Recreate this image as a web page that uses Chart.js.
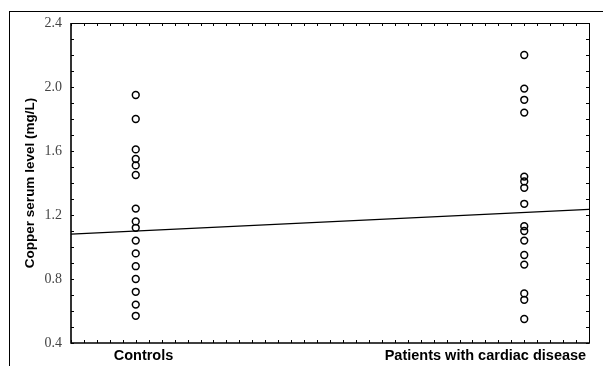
<!DOCTYPE html>
<html>
<head>
<meta charset="utf-8">
<script src="https://cdn.jsdelivr.net/npm/chart.js@4.4.0/dist/chart.umd.min.js"></script>
<style>
  html, body { margin: 0; padding: 0; background: #fff; overflow: hidden; }
  #wrap { position: relative; width: 603px; height: 366px; overflow: hidden; }
  #box { position: absolute; left: 9px; top: 11px; width: 620px; height: 400px; border: 1px solid #000; box-sizing: border-box; }
  canvas { position: absolute; left: 0; top: 0; }
</style>
</head>
<body>
<div id="wrap">
  <div id="box"></div>
  <canvas id="myChart" width="603" height="366"></canvas>
</div>
<script>
// groups and their position on the x scale
const groups = ["Controls", "Patients with cardiac disease"];
const groupX = [1, 7];

// copper serum level (mg/L)
const controls = [1.95, 1.80, 1.61, 1.55, 1.51, 1.45, 1.24, 1.16, 1.12, 1.04, 0.96, 0.88, 0.80, 0.72, 0.64, 0.57];
const patients = [2.20, 1.99, 1.92, 1.84, 1.44, 1.41, 1.37, 1.27, 1.13, 1.10, 1.04, 0.95, 0.89, 0.71, 0.67, 0.55];

// fitted line, value at both ends of the x range
const lineX = [0, 8];
const lineY = [1.08, 1.235];

const yTicks = [0.4, 0.8, 1.2, 1.6, 2.0, 2.4];

// where the group labels sit under the axis (they are not centred on the points)
const labelX = [1.12, 6.4];

function pts(x, vals) {
  return vals.map(v => ({ x: x, y: v }));
}

// axis frame with small inward ticks
const frame = {
  id: "frame",
  afterDraw(chart) {
    const { ctx, chartArea: a, scales } = chart;
    const x = scales.x, y = scales.y;
    ctx.save();
    ctx.strokeStyle = "#000";
    ctx.lineWidth = 1;
    ctx.beginPath();
    ctx.moveTo(a.left, a.top + 0.5);
    ctx.lineTo(a.right + 0.5, a.top + 0.5);
    ctx.lineTo(a.right + 0.5, a.bottom);
    ctx.stroke();
    ctx.lineWidth = 1.6;
    ctx.beginPath();
    ctx.moveTo(a.left, a.top);
    ctx.lineTo(a.left, a.bottom);
    ctx.lineTo(a.right + 1, a.bottom);
    ctx.stroke();

    ctx.lineWidth = 1;
    ctx.beginPath();
    for (let i = 0; i <= 20; i++) {
      const py = Math.round(y.getPixelForValue(0.4 + i * 0.1)) + 0.5;
      ctx.moveTo(a.left, py); ctx.lineTo(a.left + 3, py);
      ctx.moveTo(a.right, py); ctx.lineTo(a.right - 3, py);
    }
    for (let i = 0; i <= 40; i++) {
      const px = Math.round(x.getPixelForValue(i * 0.2)) + 0.5;
      ctx.moveTo(px, a.bottom); ctx.lineTo(px, a.bottom - 3);
      ctx.moveTo(px, a.top); ctx.lineTo(px, a.top + 3);
    }
    ctx.stroke();
    ctx.restore();
  }
};

const ctx = document.getElementById("myChart");

new Chart(ctx, {
  type: "scatter",
  data: {
    datasets: [
      {
        label: groups[0],
        data: pts(groupX[0], controls),
        pointStyle: "circle",
        pointRadius: 3.4,
        pointBorderWidth: 1.5,
        borderColor: "#000",
        backgroundColor: "rgba(255,255,255,0)",
      },
      {
        label: groups[1],
        data: pts(groupX[1], patients),
        pointStyle: "circle",
        pointRadius: 3.4,
        pointBorderWidth: 1.5,
        borderColor: "#000",
        backgroundColor: "rgba(255,255,255,0)",
      },
      {
        type: "line",
        label: "fit",
        data: lineX.map((v, i) => ({ x: v, y: lineY[i] })),
        borderColor: "#000",
        borderWidth: 1.3,
        pointRadius: 0,
        fill: false,
      },
    ],
  },
  options: {
    responsive: false,
    animation: false,
    devicePixelRatio: 1,
    layout: { padding: { top: 23, right: 14, left: 0, bottom: 0 } },
    plugins: {
      legend: { display: false },
      tooltip: { enabled: false },
    },
    scales: {
      x: {
        type: "linear",
        min: 0,
        max: 8,
        grid: { display: false, drawTicks: false },
        border: { display: false },
        afterBuildTicks: (scale) => {
          scale.ticks = labelX.map(v => ({ value: v }));
        },
        afterFit: (scale) => { scale.height = 23; },
        ticks: {
          padding: 4,
          maxRotation: 0,
          autoSkip: false,
          color: "#000",
          font: { family: "'Liberation Sans', Arial, sans-serif", size: 14.5, weight: "bold" },
          callback: (v, i) => groups[i],
        },
      },
      y: {
        min: 0.4,
        max: 2.4,
        grid: { display: false, drawTicks: false },
        border: { display: false },
        afterBuildTicks: (scale) => {
          scale.ticks = yTicks.map(v => ({ value: v }));
        },
        afterFit: (scale) => { scale.width = 71; },
        ticks: {
          padding: 9,
          color: "#444",
          font: { family: "'Liberation Serif', 'Times New Roman', serif", size: 14 },
          callback: (v) => Number(v).toFixed(1),
        },
        title: {
          display: true,
          text: "Copper serum level (mg/L)",
          color: "#000",
          padding: { top: 22, bottom: 0 },
          font: { family: "'Liberation Sans', Arial, sans-serif", size: 13.5, weight: "bold" },
        },
      },
    },
  },
  plugins: [frame],
});
</script>
</body>
</html>
